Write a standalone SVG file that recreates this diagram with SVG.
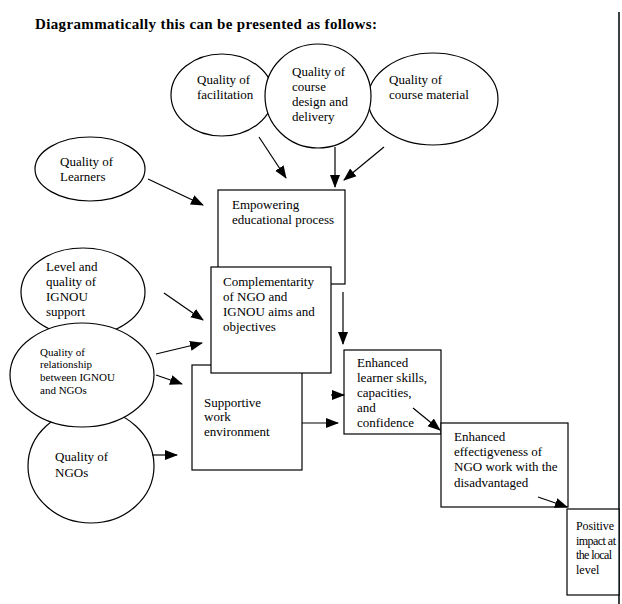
<svg xmlns="http://www.w3.org/2000/svg" width="622" height="604" viewBox="0 0 622 604">
<style>
.s{fill:#fff;stroke:#000;stroke-width:1.2}
.t{font-family:"Liberation Serif","Times New Roman",serif;font-size:13px;fill:#000}
.sm{font-size:11px}
.p{font-size:12px}
.c{stroke:#000;stroke-width:1.2;fill:none;marker-end:url(#ah)}
</style>
<defs>
<marker id="ah" markerUnits="userSpaceOnUse" markerWidth="14" markerHeight="12" refX="12" refY="5" orient="auto" viewBox="0 0 14 10">
<path d="M0,0 L13,5 L0,10 Z" fill="#000"/>
</marker>
</defs>
<rect width="622" height="604" fill="#fff"/>
<text x="35" y="29" class="t" style="font-size:15px;font-weight:bold" textLength="342">Diagrammatically this can be presented as follows:</text>
<line x1="619" y1="12" x2="619" y2="604" stroke="#000" stroke-width="1.5"/>

<g id="n-facilitation"><ellipse class="s" cx="222" cy="95" rx="51" ry="41"/>
<text class="t" x="197" y="84">Quality of</text><text class="t" x="197" y="99">facilitation</text></g>
<g id="n-material"><ellipse class="s" cx="433" cy="99" rx="65" ry="46"/>
<text class="t" x="389" y="84">Quality of</text><text class="t" x="389" y="99">course material</text></g>
<g id="n-design"><ellipse class="s" cx="318" cy="96" rx="53" ry="52"/>
<text class="t" x="292" y="76">Quality of</text><text class="t" x="292" y="91">course</text><text class="t" x="292" y="106">design and</text><text class="t" x="292" y="121">delivery</text></g>
<g id="n-learners"><ellipse class="s" cx="90" cy="169" rx="55" ry="32"/>
<text class="t" x="60" y="166">Quality of</text><text class="t" x="60" y="181">Learners</text></g>
<g id="n-level"><ellipse class="s" cx="83" cy="292" rx="62" ry="44"/>
<text class="t" x="46" y="271">Level and</text><text class="t" x="46" y="286">quality of</text><text class="t" x="46" y="301">IGNOU</text><text class="t" x="46" y="316">support</text></g>
<g id="n-ngos"><ellipse class="s" cx="91" cy="466" rx="63" ry="57"/>
<text class="t" x="55" y="461">Quality of</text><text class="t" x="55" y="477">NGOs</text></g>
<g id="n-relationship"><ellipse class="s" cx="82" cy="375" rx="72" ry="52"/>
<text class="t sm" x="40" y="356">Quality of</text><text class="t sm" x="40" y="368">relationship</text><text class="t sm" x="40" y="381">between IGNOU</text><text class="t sm" x="40" y="394">and NGOs</text></g>

<g id="n-empowering"><rect class="s" x="218" y="190" width="127" height="94"/>
<text class="t" x="232" y="209">Empowering</text><text class="t" x="232" y="224">educational process</text></g>
<g id="n-supportive"><rect class="s" x="192" y="365" width="110" height="105"/>
<text class="t" x="204" y="407">Supportive</text><text class="t" x="204" y="421">work</text><text class="t" x="204" y="436">environment</text></g>
<g id="n-complementarity"><rect class="s" x="211" y="267" width="120" height="106"/>
<text class="t" x="223" y="286">Complementarity</text><text class="t" x="223" y="301">of NGO and</text><text class="t" x="223" y="316">IGNOU aims and</text><text class="t" x="223" y="331">objectives</text></g>
<g id="n-skills"><rect class="s" x="344" y="350" width="97" height="84"/>
<text class="t" x="357" y="367">Enhanced</text><text class="t" x="357" y="382">learner skills,</text><text class="t" x="357" y="397">capacities,</text><text class="t" x="357" y="412">and</text><text class="t" x="357" y="427">confidence</text></g>
<g id="n-effectiveness"><rect class="s" x="441" y="423" width="127" height="84"/>
<text class="t" x="454" y="441">Enhanced</text><text class="t" x="454" y="456">effectigveness of</text><text class="t" x="454" y="471">NGO work with the</text><text class="t" x="454" y="487">disadvantaged</text></g>
<g id="n-positive"><rect class="s" x="567" y="509" width="52" height="86"/>
<text class="t p" x="576" y="530" textLength="38">Positive</text><text class="t p" x="576" y="545" textLength="40">impact at</text><text class="t p" x="576" y="559" textLength="36">the local</text><text class="t p" x="576" y="574">level</text></g>

<g id="connectors">
<line class="c" x1="259" y1="137" x2="286" y2="178"/>
<line class="c" x1="335" y1="147" x2="335" y2="187"/>
<line class="c" x1="384" y1="147" x2="344" y2="180"/>
<line class="c" x1="148" y1="179" x2="203" y2="205"/>
<line class="c" x1="343" y1="292" x2="343" y2="344"/>
<line class="c" x1="164" y1="293" x2="203" y2="320"/>
<line class="c" x1="156" y1="354" x2="202" y2="343"/>
<line class="c" x1="156" y1="375" x2="182" y2="384"/>
<line class="c" x1="152" y1="455" x2="177" y2="455"/>
<line class="c" x1="302" y1="423" x2="338" y2="423"/>
<line class="c" x1="331" y1="395" x2="344" y2="395"/>
<line class="c" x1="413" y1="408" x2="440" y2="430"/>
<line class="c" x1="538" y1="497" x2="567" y2="507"/>
</g>
</svg>
